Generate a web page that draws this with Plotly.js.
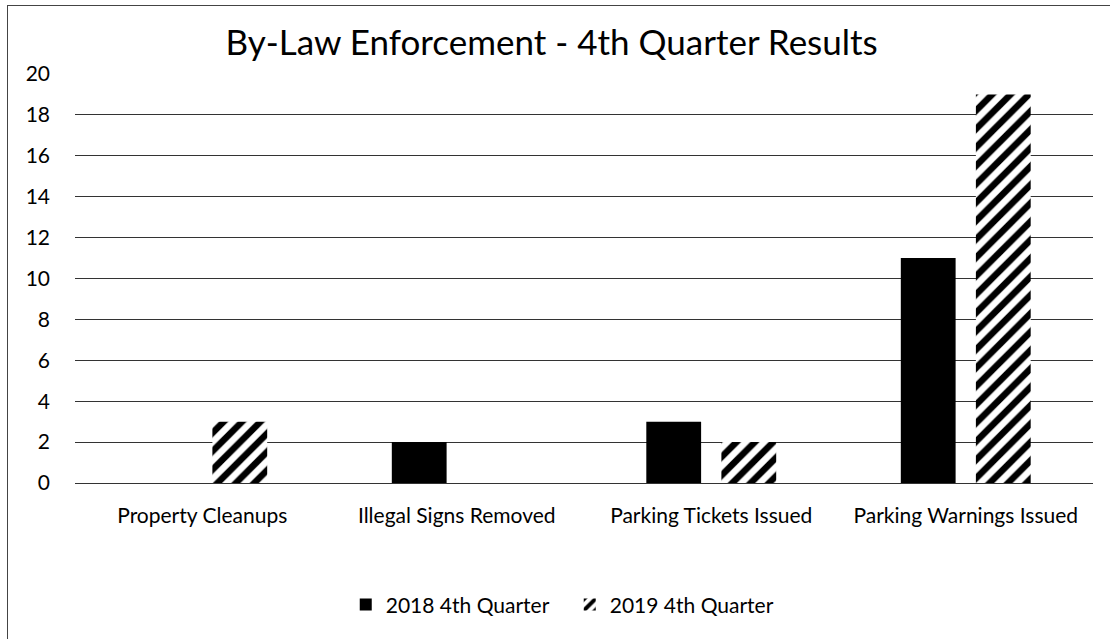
<!DOCTYPE html>
<html><head><meta charset="utf-8">
<script src="https://cdn.plot.ly/plotly-3.0.1.min.js"></script>
<style>
html,body{margin:0;padding:0;background:#fff;}
#wrap{position:relative;width:1110px;height:639px;overflow:hidden;}
#chart{width:1110px;height:639px;}
#frame{position:absolute;left:7px;top:5px;width:1110px;height:700px;border-left:1px solid #444;border-top:1px solid #444;pointer-events:none;}
</style></head>
<body><div id="wrap"><div id="chart"></div><div id="frame"></div></div>
<script>
const categories = ["Property Cleanups", "Illegal Signs Removed", "Parking Tickets Issued", "Parking Warnings Issued"];
const series2018 = [0, 2, 3, 11];
const series2019 = [3, 0, 2, 19];
const yTicks = [0, 2, 4, 6, 8, 10, 12, 14, 16, 18, 20];
const fontFam = "Lato, 'Open Sans', sans-serif";

const traces = [
  {type:'bar', name:'2018 4th Quarter', x:categories, y:series2018,
   marker:{color:'#000', line:{width:0}}},
  {type:'bar', name:'2019 4th Quarter', x:categories, y:series2019,
   marker:{color:'#fff', line:{width:0},
     pattern:{shape:'/', fgcolor:'#000', bgcolor:'#fff', fgopacity:1, size:13, solidity:0.5, fillmode:'replace'}}}
];
const layout = {
  width:1110, height:639,
  margin:{l:75, r:17, t:74, b:156},
  paper_bgcolor:'#fff', plot_bgcolor:'#fff',
  title:{text:'By-Law Enforcement - 4th Quarter Results', x:0.497, xanchor:'center', y:0.933, yanchor:'middle',
         font:{family:fontFam, size:35, color:'#000'}},
  barmode:'group', bargap:0.41, bargroupgap:0.27,
  xaxis:{tickfont:{family:fontFam, size:21, color:'#000'}, showline:false, ticks:'', showgrid:false,
         ticklabelstandoff:18},
  yaxis:{range:[0,20], tickvals:yTicks, tickfont:{family:fontFam, size:21, color:'#000'},
         showgrid:true, gridcolor:'#333', gridwidth:1, zeroline:true, zerolinecolor:'#333', zerolinewidth:1,
         ticks:'', ticklabelstandoff:24},
  showlegend:true,
  legend:{orientation:'h', x:0.486, xanchor:'center', y:-0.298, yanchor:'middle',
          font:{family:fontFam, size:21, color:'#000'}, itemwidth:30, entrywidth:179, entrywidthmode:'pixels'},
  font:{family:fontFam}
};
Plotly.newPlot('chart', traces, layout, {displayModeBar:false, staticPlot:true});
</script></body></html>
